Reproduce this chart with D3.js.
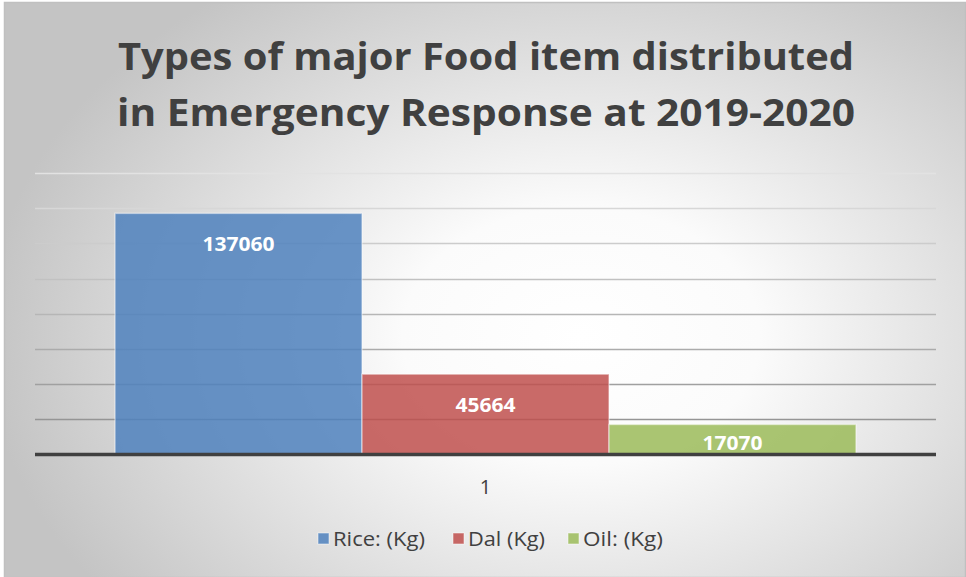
<!DOCTYPE html>
<html>
<head>
<meta charset="utf-8">
<script src="https://cdn.jsdelivr.net/npm/d3@7"></script>
<style>
  html, body { margin: 0; padding: 0; background: #fff; }
  svg { display: block; }
  text { font-family: "Open Sans", "Noto Sans", sans-serif; }
</style>
</head>
<body>
<svg id="chart" width="966" height="577"></svg>
<script>
// Chart data
const titleLines = ["Types of major Food item distributed", "in Emergency Response at 2019-2020"];
const categories = ["1"];
const seriesNames = ["Rice: (Kg)", "Dal (Kg)", "Oil: (Kg)"];
const seriesValues = [137060, 45664, 17070];
const seriesColors = ["#4f81bd", "#c0504d", "#9bbb59"];
const yTicks = [0, 20000, 40000, 60000, 80000, 100000, 120000, 140000, 160000];

const W = 966, H = 577;
const svg = d3.select("#chart");
const defs = svg.append("defs");

// soft radial background
const rg = defs.append("radialGradient").attr("id", "bg")
  .attr("cx", "0.6").attr("cy", "0.58").attr("r", "0.62")
  .attr("gradientTransform", "translate(0.6,0.58) scale(1,1.2) translate(-0.6,-0.58)");
rg.append("stop").attr("offset", "0").attr("stop-color", "#ffffff");
rg.append("stop").attr("offset", "0.3").attr("stop-color", "#fbfbfb");
rg.append("stop").attr("offset", "1").attr("stop-color", "#c4c4c4");

svg.append("rect").attr("x", 4.5).attr("y", 2.5).attr("width", W - 5).attr("height", H - 2)
  .attr("fill", "url(#bg)").attr("stroke", "#c0c0c0").attr("stroke-width", 1.5);

// plot area
const plot = { left: 35, right: 936, top: 173, bottom: 454.5 };

const x0 = d3.scaleBand().domain(categories).range([plot.left, plot.right])
  .paddingInner(0).paddingOuter(0.108);
const x1 = d3.scaleBand().domain(seriesNames).range([0, x0.bandwidth()]).padding(0);
const y = d3.scaleLinear().domain([0, d3.max(yTicks)]).range([plot.bottom, plot.top]);

// gridlines (darker toward the baseline)
const gridShade = d3.scaleLinear().domain([0, yTicks.length - 1]).range(["#8a8a8a", "#e2e2e2"]);
svg.append("g").selectAll("line").data(yTicks.slice(1)).join("line")
  .attr("x1", plot.left).attr("x2", plot.right)
  .attr("y1", d => Math.round(y(d)) + 0.5).attr("y2", d => Math.round(y(d)) + 0.5)
  .attr("stroke", (d, i) => gridShade(i + 1)).attr("stroke-width", 1.3);

// bars
const bars = seriesNames.map((s, i) => ({ cat: categories[0], name: s, value: seriesValues[i], color: seriesColors[i] }));
svg.append("g").selectAll("rect").data(bars).join("rect")
  .attr("x", d => x0(d.cat) + x1(d.name))
  .attr("y", d => y(d.value))
  .attr("width", x1.bandwidth())
  .attr("height", d => y(0) - y(d.value))
  .attr("fill", d => d.color).attr("fill-opacity", 0.85)
  .attr("stroke", "#ffffff").attr("stroke-opacity", 0.45).attr("stroke-width", 1.5);

// baseline
svg.append("line").attr("x1", plot.left).attr("x2", plot.right)
  .attr("y1", y(0)).attr("y2", y(0))
  .attr("stroke", "#404040").attr("stroke-width", 3.5);

// value labels, inside the bar end
svg.append("g").selectAll("text").data(bars).join("text")
  .attr("x", d => x0(d.cat) + x1(d.name) + x1.bandwidth() / 2)
  .attr("y", d => y(d.value) + Math.min(31, (y(0) - y(d.value)) / 2 + 4))
  .attr("text-anchor", "middle").attr("dominant-baseline", "central")
  .attr("fill", "#ffffff").attr("font-size", 19).attr("font-weight", 700)
  .attr("textLength", d => String(d.value).length * 12).attr("lengthAdjust", "spacingAndGlyphs")
  .text(d => d.value);

// category axis
const xAxis = svg.append("g").attr("transform", `translate(0,${plot.bottom})`)
  .call(d3.axisBottom(x0).tickSize(0).tickPadding(25));
xAxis.select(".domain").remove();
xAxis.selectAll("text").attr("font-size", 20).attr("fill", "#404040")
  .attr("font-family", "'Open Sans', sans-serif");

// title
svg.append("g").selectAll("text").data(titleLines).join("text")
  .attr("x", 486).attr("y", (d, i) => 70 + i * 56)
  .attr("text-anchor", "middle")
  .attr("font-size", 38).attr("font-weight", 700).attr("fill", "#404040")
  .attr("textLength", (d, i) => i === 0 ? 736 : 738).attr("lengthAdjust", "spacingAndGlyphs")
  .text(d => d);

// legend
const legendItems = [
  { x: 318, tx: 333, tw: 92 },
  { x: 453, tx: 468, tw: 77 },
  { x: 568, tx: 583, tw: 80 }
];
const lg = svg.append("g").selectAll("g").data(seriesNames).join("g");
lg.append("rect")
  .attr("x", (d, i) => legendItems[i].x).attr("y", 533).attr("width", 11).attr("height", 11)
  .attr("fill", (d, i) => seriesColors[i]).attr("fill-opacity", 0.85)
  .attr("stroke", "#ffffff").attr("stroke-opacity", 0.5);
lg.append("text")
  .attr("x", (d, i) => legendItems[i].tx).attr("y", 546)
  .attr("font-size", 19.5).attr("fill", "#404040")
  .attr("textLength", (d, i) => legendItems[i].tw).attr("lengthAdjust", "spacingAndGlyphs")
  .text(d => d);
</script>
</body>
</html>
